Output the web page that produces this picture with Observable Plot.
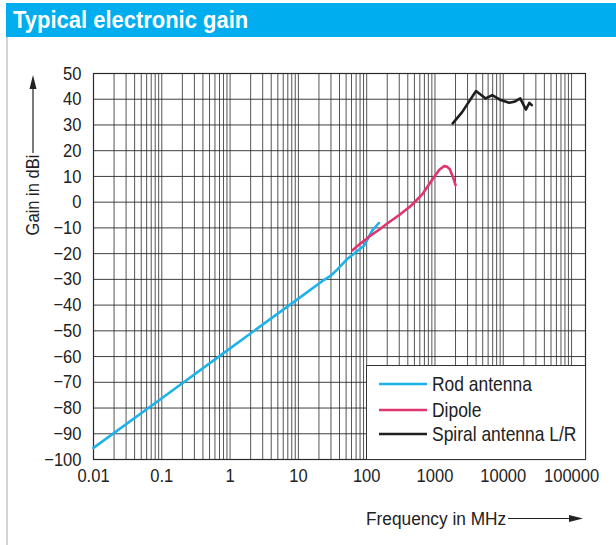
<!DOCTYPE html>
<html>
<head>
<meta charset="utf-8">
<script src="https://cdn.jsdelivr.net/npm/d3@7"></script>
<script src="https://cdn.jsdelivr.net/npm/@observablehq/plot@0.6"></script>
<style>
  body { margin: 0; background: #fff; }
  #wrap { position: relative; width: 616px; height: 545px; background: #fff; overflow: hidden;
          font-family: 'Liberation Sans', Arial, sans-serif; }
  #bar { position: absolute; left: 6px; top: 3px; width: 610px; height: 34px; background: #00AEEF; }
  #title { position: absolute; left: 13px; top: 3px; height: 34px; line-height: 34px; color: #fff;
           font-weight: bold; font-size: 23px; white-space: nowrap;
           transform: scaleX(0.955); transform-origin: left center; }
  #leftline { position: absolute; left: 6px; top: 37px; width: 2px; height: 508px; background: #d4d4d4; }
  #chart { position: absolute; left: 0; top: 37px; }
  #overlay { position: absolute; left: 0; top: 0; pointer-events: none; }
  #legend { position: absolute; left: 366px; top: 365px; width: 218px; height: 93px; background: #fff;
            border: 1px solid #333; }
  .lrow { position: absolute; left: 0; height: 24px; line-height: 24px; font-size: 21px; color: #222; }
  .lrow svg { position: absolute; left: 12px; top: 10px; }
  .lrow span { position: absolute; left: 65px; white-space: nowrap; display: inline-block;
               transform: scaleX(0.83); transform-origin: left center; }
</style>
</head>
<body>
<div id="wrap">
  <div id="bar"></div>
  <div id="title">Typical electronic gain</div>
  <div id="leftline"></div>
  <div id="chart"></div>
  <svg id="overlay" width="616" height="545"></svg>
  <div id="legend"></div>
</div>
<script>
// Data
const rodFreq = [0.01, 0.1, 1, 10, 21.5, 30, 37, 50, 65, 92, 121, 151];
const rodGain = [-95.5, -76.2, -56.8, -37.5, -31, -28.5, -26.2, -22.5, -20, -16.8, -11, -8.1];

const dipoleFreq = [62, 80, 100, 115, 150, 200, 300, 450, 650, 900, 1150, 1350, 1500, 1650, 1850, 2000];
const dipoleGain = [-18.7, -16.2, -14.2, -12.9, -10.8, -8.3, -5, -1.3, 3, 8.5, 12.5, 14.0, 13.8, 12.8, 9.5, 6.6];

const spiralFreq = [1820, 2500, 3030, 3990, 5520, 6900, 9170, 12200, 14500, 17700, 21500, 24100, 26100];
const spiralGain = [30.6, 35, 38.4, 43.2, 40.3, 41.6, 39.7, 38.6, 39.0, 40.3, 36.0, 38.6, 37.7];

const seriesNames = ["Rod antenna", "Dipole", "Spiral antenna L/R"];
const seriesColors = ["#1DB2EA", "#E0356E", "#1e1e1e"];

const xTickLabels = [0.01, 0.1, 1, 10, 100, 1000, 10000, 100000];
const yTickLabels = [-100, -90, -80, -70, -60, -50, -40, -30, -20, -10, 0, 10, 20, 30, 40, 50];

// Log grid: 1..9 per decade
const gridX = [];
for (const d of xTickLabels.slice(0, -1)) for (let m = 1; m < 10; m++) gridX.push(+(d * m).toPrecision(3));
gridX.push(100000);

const toRows = (name, fs, gs) => fs.map((f, i) => ({series: name, freq: f, gain: gs[i]}));
const rows = [
  ...toRows(seriesNames[0], rodFreq, rodGain),
  ...toRows(seriesNames[1], dipoleFreq, dipoleGain),
  ...toRows(seriesNames[2], spiralFreq, spiralGain)
];

const FONT = "'Liberation Sans', Arial, sans-serif";
const SX = 0.87; // horizontal condensing of the label font

const chart = Plot.plot({
  width: 616,
  height: 508,
  marginLeft: 93,
  marginRight: 31,
  marginTop: 36,
  marginBottom: 86,
  style: {fontFamily: FONT, fontSize: "19px", color: "#222", background: "transparent"},
  x: {type: "log", domain: [0.01, 160000], label: null},
  y: {domain: [-100, 50], label: null},
  color: {domain: seriesNames, range: seriesColors},
  marks: [
    Plot.gridX(gridX, {stroke: "#2a2a2a", strokeOpacity: 0.8, strokeWidth: 1}),
    Plot.gridY(yTickLabels, {stroke: "#2a2a2a", strokeOpacity: 0.9, strokeWidth: 1}),
    Plot.frame({stroke: "#2a2a2a", strokeWidth: 1.2}),
    Plot.line(rows, {x: "freq", y: "gain", z: "series", stroke: "series", strokeWidth: 2.6, strokeLinejoin: "round"}),
    Plot.axisX(xTickLabels, {tickSize: 0, tickPadding: 9, tickFormat: d => String(d), fill: "#222"}),
    Plot.axisY(yTickLabels, {tickSize: 0, tickPadding: 12, fill: "#222"})
  ]
});
document.getElementById("chart").appendChild(chart);

// condense the tick label glyphs horizontally around their anchor
chart.querySelectorAll('g[aria-label$="tick label"] text').forEach(t => {
  if (t.hasAttribute("x")) t.setAttribute("x", (+t.getAttribute("x")) / SX);
  const tr = t.getAttribute("transform") || "";
  t.setAttribute("transform", tr + ` scale(${SX},1)`);
});

// Axis titles with arrows
const ov = d3.select("#overlay");
ov.append("text")
  .attr("transform", `translate(33,195) rotate(-90) scale(${SX},1)`)
  .attr("text-anchor", "middle").attr("dominant-baseline", "central")
  .attr("font-size", 19).attr("fill", "#222").attr("font-family", FONT)
  .text("Gain in dBi");
ov.append("line").attr("x1", 33).attr("x2", 33).attr("y1", 153).attr("y2", 86).attr("stroke", "#222").attr("stroke-width", 1.2);
ov.append("path").attr("d", "M33,75 L29.5,89 L36.5,89 Z").attr("fill", "#222");

ov.append("text")
  .attr("transform", `translate(366,519) scale(0.91,1)`)
  .attr("dominant-baseline", "central")
  .attr("font-size", 19).attr("fill", "#222").attr("font-family", FONT)
  .text("Frequency in MHz");
ov.append("line").attr("x1", 508).attr("x2", 572).attr("y1", 518.5).attr("y2", 518.5).attr("stroke", "#222").attr("stroke-width", 1.2);
ov.append("path").attr("d", "M583,518.5 L569,515 L569,522 Z").attr("fill", "#222");

// Legend
const legend = document.getElementById("legend");
const rowTops = [6, 32, 56];
seriesNames.forEach((name, i) => {
  const r = document.createElement("div");
  r.className = "lrow";
  r.style.top = rowTops[i] + "px";
  r.innerHTML = `<svg width="50" height="4"><line x1="0" x2="48" y1="2" y2="2" stroke="${seriesColors[i]}" stroke-width="2.6"/></svg><span>${name}</span>`;
  legend.appendChild(r);
});
</script>
</body>
</html>
